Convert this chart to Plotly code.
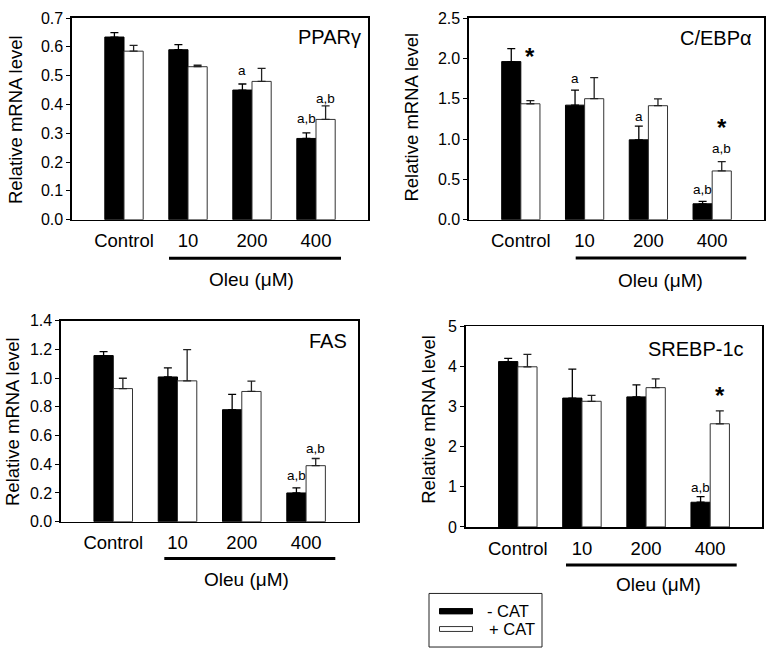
import plotly.graph_objects as go

W, H = 767, 657
FONT = "Liberation Sans, Arial, sans-serif"

categories = ["Control", "10", "200", "400"]

ppar_minus = [0.634, 0.590, 0.450, 0.282]
ppar_minus_err = [0.015, 0.018, 0.021, 0.019]
ppar_plus = [0.585, 0.531, 0.480, 0.348]
ppar_plus_err = [0.020, 0.005, 0.045, 0.047]

cebp_minus = [1.96, 1.42, 0.99, 0.197]
cebp_minus_err = [0.16, 0.185, 0.17, 0.03]
cebp_plus = [1.437, 1.50, 1.413, 0.604]
cebp_plus_err = [0.04, 0.26, 0.085, 0.115]

fas_minus = [1.157, 1.008, 0.78, 0.20]
fas_minus_err = [0.027, 0.063, 0.106, 0.035]
fas_plus = [0.927, 0.981, 0.907, 0.39]
fas_plus_err = [0.072, 0.217, 0.072, 0.05]

srebp_minus = [4.12, 3.21, 3.24, 0.615]
srebp_minus_err = [0.08, 0.72, 0.30, 0.14]
srebp_plus = [3.99, 3.13, 3.47, 2.57]
srebp_plus_err = [0.31, 0.15, 0.22, 0.32]

panel_titles = ["PPAR\u03b3", "C/EBP\u03b1", "FAS", "SREBP-1c"]

# significance labels: (text, category index, side(-1 black / +1 white), y value)
ppar_marks = [("a", 2, -1, 0.517), ("a,b", 3, -1, 0.352), ("a,b", 3, 1, 0.42)]
cebp_marks = [("a", 1, -1, 1.75), ("a", 2, -1, 1.28), ("a,b", 3, -1, 0.37), ("a,b", 3, 1, 0.88)]
fas_marks = [("a,b", 3, -1, 0.325), ("a,b", 3, 1, 0.508)]
srebp_marks = [("a,b", 3, -1, 0.99)]
cebp_stars = [(0, 1, 2.08), (3, 1, 1.21)]
srebp_stars = [(3, 1, 3.40)]

y_ranges = [[0, 0.7], [0, 2.5], [0, 1.4], [0, 5]]
y_ticks = [[0, 0.1, 0.2, 0.3, 0.4, 0.5, 0.6, 0.7],
           [0, 0.5, 1.0, 1.5, 2.0, 2.5],
           [0, 0.2, 0.4, 0.6, 0.8, 1.0, 1.2, 1.4],
           [0, 1, 2, 3, 4, 5]]
y_formats = [".1f", ".1f", ".1f", "d"]

# pixel frames of the four panels: (left, right, top, bottom)
frames = [(72, 368, 10.3, 217.3), (469, 764, 10.3, 217.3),
          (61, 358.3, 321, 527.3), (465.7, 762.3, 326.7, 532.7)]


def xp(px):
    return px / W


def yp(py):
    return 1 - py / H


panels = [
    (ppar_minus, ppar_minus_err, ppar_plus, ppar_plus_err, ppar_marks, []),
    (cebp_minus, cebp_minus_err, cebp_plus, cebp_plus_err, cebp_marks, cebp_stars),
    (fas_minus, fas_minus_err, fas_plus, fas_plus_err, fas_marks, []),
    (srebp_minus, srebp_minus_err, srebp_plus, srebp_plus_err, srebp_marks, srebp_stars),
]

fig = go.Figure()
annotations = []
shapes = []

for i, (mv, me, pv, pe, marks, stars) in enumerate(panels):
    n = i + 1
    xa = "x" if n == 1 else f"x{n}"
    ya = "y" if n == 1 else f"y{n}"
    fig.add_trace(go.Bar(
        x=categories, y=mv, xaxis=xa, yaxis=ya, name="- CAT",
        marker=dict(color="black", line=dict(color="black", width=1)),
        error_y=dict(type="data", symmetric=False, array=me, arrayminus=[0] * 4,
                     color="black", thickness=1.3, width=4),
        showlegend=False, offsetgroup="m", hoverinfo="skip",
    ))
    fig.add_trace(go.Bar(
        x=categories, y=pv, xaxis=xa, yaxis=ya, name="+ CAT",
        marker=dict(color="white", line=dict(color="#333333", width=1)),
        error_y=dict(type="data", symmetric=False, array=pe, arrayminus=[0] * 4,
                     color="#222222", thickness=1.3, width=4),
        showlegend=False, offsetgroup="p", hoverinfo="skip",
    ))
    l, r, t, b = frames[i]
    fig.update_layout(**{
        ("xaxis" if n == 1 else f"xaxis{n}"): dict(
            domain=[xp(l), xp(r)], anchor=ya, type="category",
            range=[-0.8125, 3.8125], showline=True, mirror=True,
            linecolor="black", linewidth=1.6, ticks="", showgrid=False,
            tickfont=dict(family=FONT, size=18.5, color="black"),
            ticklabelstandoff=4,
        ),
        ("yaxis" if n == 1 else f"yaxis{n}"): dict(
            domain=[yp(b), yp(t)], anchor=xa, range=y_ranges[i],
            tickvals=y_ticks[i], tickformat=y_formats[i], showline=True,
            mirror=True, linecolor="black", linewidth=1.6, ticks="outside",
            ticklen=4, tickwidth=1, tickcolor="black", showgrid=False,
            zeroline=False, tickfont=dict(family=FONT, size=16, color="black"),
        ),
    })
    for text, ci, side, yv in marks:
        annotations.append(dict(
            text=text, x=ci + side * 0.15, y=yv, xref=xa, yref=ya,
            showarrow=False, font=dict(family=FONT, size=13.5, color="black"),
            xanchor="center", yanchor="middle"))
    for ci, side, yv in stars:
        annotations.append(dict(
            text="<b>*</b>", x=ci + side * 0.15, y=yv, xref=xa, yref=ya,
            showarrow=False, font=dict(family=FONT, size=24, color="black"),
            xanchor="center", yanchor="middle", yshift=-5, borderpad=0))

# panel titles (right edge px, center y px)
title_pos = [(363, 30), (754, 30.7), (349.3, 341.7), (745.7, 350)]
for (tx, ty), txt in zip(title_pos, panel_titles):
    annotations.append(dict(text=txt, x=xp(tx), y=yp(ty), xref="paper", yref="paper",
                            showarrow=False, xanchor="right", yanchor="middle",
                            font=dict(family=FONT, size=20, color="black")))

# y axis titles
ytitle_pos = [(15, 115), (412, 112.5), (12, 425), (429, 421.7)]
for tx, ty in ytitle_pos:
    annotations.append(dict(text="Relative mRNA level", x=xp(tx), y=yp(ty),
                            xref="paper", yref="paper", showarrow=False,
                            textangle=-90, xanchor="center", yanchor="middle",
                            font=dict(family=FONT, size=18.5, color="black")))

# Oleu underline + label
under = [(169, 341, 257, 251, 279), (575.7, 746.3, 256.7, 660.7, 280),
         (164.3, 335.3, 565, 246.7, 586.7), (566, 736.7, 571.7, 658.3, 591.7)]
for x0, x1, ly, tx, ty in under:
    shapes.append(dict(type="line", xref="paper", yref="paper", x0=xp(x0), x1=xp(x1),
                       y0=yp(ly), y1=yp(ly), line=dict(color="black", width=3)))
    annotations.append(dict(text="Oleu (\u03bcM)", x=xp(tx), y=yp(ty), xref="paper",
                            yref="paper", showarrow=False, xanchor="center",
                            yanchor="middle", font=dict(family=FONT, size=19, color="black")))

# legend
shapes.append(dict(type="rect", xref="paper", yref="paper", x0=xp(429), x1=xp(542),
                   y0=yp(656), y1=yp(601), line=dict(color="#222222", width=1),
                   fillcolor="white"))
shapes.append(dict(type="rect", xref="paper", yref="paper", x0=xp(439.5), x1=xp(472.5),
                   y0=yp(622), y1=yp(616.5), line=dict(color="black", width=1),
                   fillcolor="black"))
shapes.append(dict(type="rect", xref="paper", yref="paper", x0=xp(439.5), x1=xp(472.5),
                   y0=yp(640), y1=yp(635), line=dict(color="#333333", width=1),
                   fillcolor="white"))
annotations.append(dict(text="- CAT", x=xp(485), y=yp(619.5), xref="paper", yref="paper",
                        showarrow=False, xanchor="left", yanchor="middle",
                        font=dict(family=FONT, size=16.5, color="black")))
annotations.append(dict(text="+ CAT", x=xp(487), y=yp(637.5), xref="paper", yref="paper",
                        showarrow=False, xanchor="left", yanchor="middle",
                        font=dict(family=FONT, size=16.5, color="black")))

fig.update_layout(
    width=W, height=H, margin=dict(l=0, r=0, t=0, b=0),
    paper_bgcolor="white", plot_bgcolor="white",
    barmode="group", bargap=0.4, bargroupgap=0,
    annotations=annotations, shapes=shapes, showlegend=False,
    font=dict(family=FONT, color="black"), hovermode=False,
)

fig.write_html(
    "out.html",
    config={"displayModeBar": False, "staticPlot": True},
    post_script="document.body.style.margin='0';document.body.style.padding='0';"
                "document.body.style.overflow='hidden';",
)
